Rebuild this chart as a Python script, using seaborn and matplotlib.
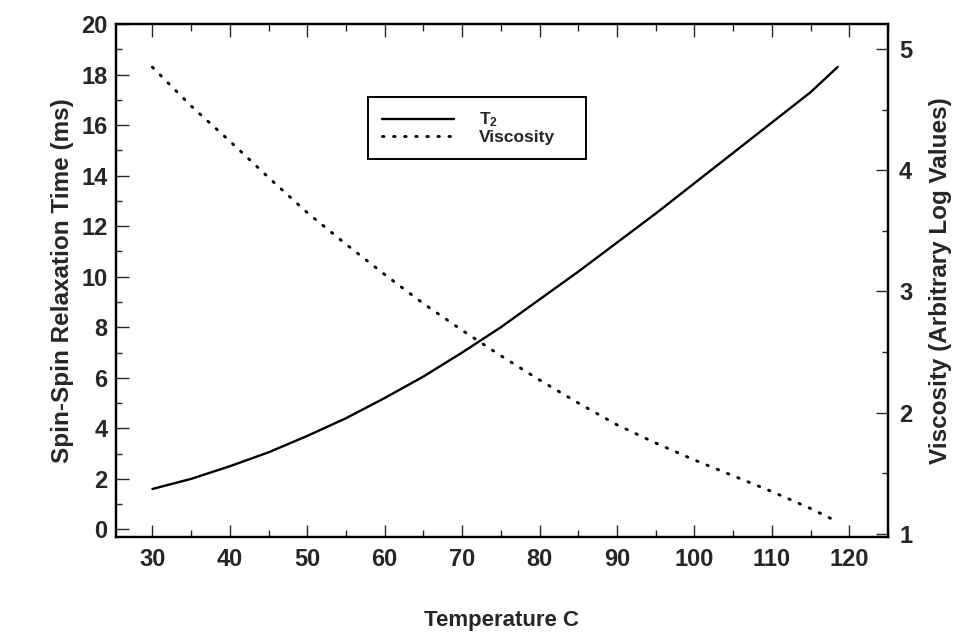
import matplotlib
matplotlib.use("Agg")
import matplotlib.pyplot as plt
import seaborn as sns
import pandas as pd
from matplotlib.ticker import MultipleLocator

temperature = [30, 35, 40, 45, 50, 55, 60, 65, 70, 75, 80, 85, 90, 95, 100, 105, 110, 115, 118.5]
t2_ms = [1.6, 2.0, 2.5, 3.05, 3.7, 4.4, 5.2, 6.05, 7.0, 8.0, 9.1, 10.2, 11.35, 12.5, 13.7, 14.9, 16.1, 17.3, 18.3]
viscosity = [4.85, 4.53, 4.24, 3.94, 3.65, 3.39, 3.14, 2.90, 2.68, 2.47, 2.27, 2.08, 1.90, 1.75, 1.61, 1.48, 1.35, 1.21, 1.10]

df = pd.DataFrame({"Temperature": temperature, "T2": t2_ms, "Viscosity": viscosity})

sns.set_style("ticks")
plt.rcParams["font.family"] = ["Liberation Sans", "DejaVu Sans"]
plt.rcParams["font.weight"] = "bold"
plt.rcParams["mathtext.fontset"] = "custom"
plt.rcParams["mathtext.rm"] = "Liberation Sans:bold"
plt.rcParams["mathtext.bf"] = "Liberation Sans:bold"
plt.rcParams["mathtext.default"] = "bf"

fig = plt.figure(figsize=(9.6, 6.34), dpi=100)
ax = fig.add_axes([116/960, 1-537/634, 772/960, 513/634])
ax2 = ax.twinx()

sns.lineplot(data=df, x="Temperature", y="T2", ax=ax, color="black", lw=1.7, label="T$_2$", legend=False)
sns.lineplot(data=df, x="Temperature", y="Viscosity", ax=ax2, color="black", lw=2.1,
             linestyle=(0, (0.5, 3.3)), dash_capstyle="round", label="Viscosity", legend=False)

ax.set_xlim(25.3, 125)
ax.set_ylim(-0.3, 20)
ax2.set_ylim(0.975, 5.206)

ax.xaxis.set_major_locator(MultipleLocator(10))
ax.xaxis.set_minor_locator(MultipleLocator(5))
ax.yaxis.set_major_locator(MultipleLocator(2))
ax.yaxis.set_minor_locator(MultipleLocator(1))
ax2.yaxis.set_major_locator(MultipleLocator(1))
ax2.yaxis.set_minor_locator(MultipleLocator(0.5))

ax.tick_params(axis="x", which="both", direction="in", top=True, labelsize=17, width=1, pad=8)
ax.tick_params(axis="x", which="major", length=9)
ax.tick_params(axis="x", which="minor", length=5)
ax.tick_params(axis="y", which="both", direction="in", labelsize=17, width=1, pad=6)
ax.tick_params(axis="y", which="major", length=9)
ax.tick_params(axis="y", which="minor", length=4)
ax2.tick_params(axis="y", which="both", direction="in", labelsize=17, width=1, pad=8)
ax2.tick_params(axis="y", which="major", length=9)
ax2.tick_params(axis="y", which="minor", length=4)

for a in (ax, ax2):
    for s in a.spines.values():
        s.set_visible(True)
        s.set_linewidth(1.6)
        s.set_color("black")
    for lab in a.get_xticklabels() + a.get_yticklabels():
        lab.set_fontweight("bold")

ax.set_xlabel("Temperature C", fontsize=16, fontweight="bold", labelpad=28)
ax.set_ylabel("Spin-Spin Relaxation Time (ms)", fontsize=17.5, fontweight="bold", labelpad=5)
ax2.set_ylabel("Viscosity (Arbitrary Log Values)", fontsize=17.5, fontweight="bold", labelpad=12)

h1, l1 = ax.get_legend_handles_labels()
h2, l2 = ax2.get_legend_handles_labels()
leg = ax2.legend(h1 + h2, l1 + l2, loc="upper left", bbox_to_anchor=(0.326, 0.743, 0.283, 0.115),
                 mode="expand", frameon=True, fancybox=False, edgecolor="black", framealpha=1,
                 prop={"weight": "bold", "size": 12.5}, labelspacing=0.02,
                 handlelength=4.2, handletextpad=1.4, borderpad=0.8, borderaxespad=0)
leg.get_frame().set_linewidth(1.4)

fig.savefig("out.png", dpi=100)
